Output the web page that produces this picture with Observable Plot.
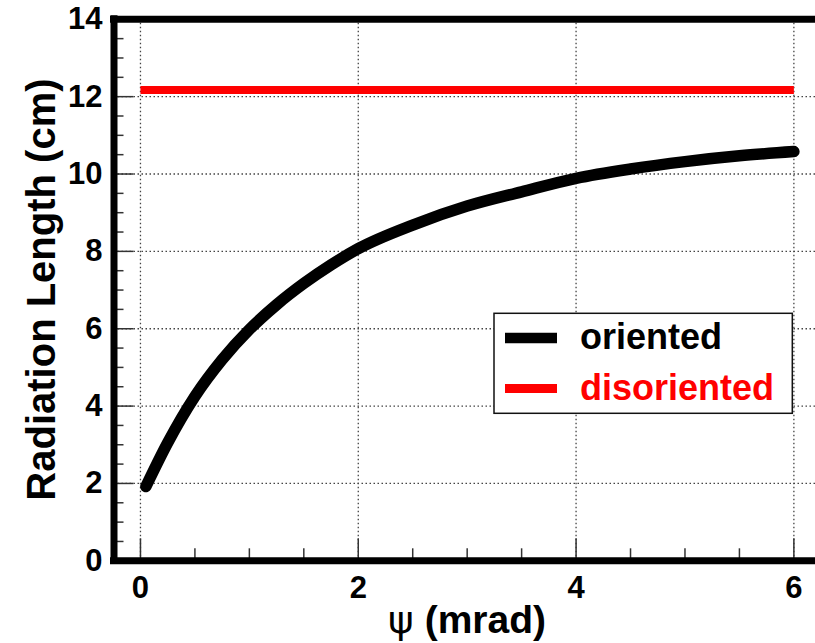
<!DOCTYPE html>
<html><head><meta charset="utf-8">
<script src="https://cdn.jsdelivr.net/npm/d3@7"></script>
<script src="https://cdn.jsdelivr.net/npm/@observablehq/plot@0.6"></script>
<style>html,body{margin:0;padding:0;background:#fff}svg{display:block}</style>
</head><body><div id="chart"></div>
<script>
// ---- data ----
const psi = [0.05, 0.25, 0.5, 0.75, 1.0, 1.25, 1.5, 1.75, 2.0, 2.5, 3.0, 3.5, 4.0, 4.5, 5.0, 5.5, 6.0];
const orientedLength = [1.92, 3.05, 4.25, 5.2, 5.98, 6.62, 7.17, 7.65, 8.07, 8.68, 9.17, 9.54, 9.89, 10.13, 10.32, 10.47, 10.58];
const disorientedPsi = [0, 6];
const disorientedLength = [12.17, 12.17];
const seriesNames = ["oriented", "disoriented"];
const seriesColors = ["#000000", "#ff0000"];
const xMajorTicks = [0, 2, 4, 6];
const xMinorTicks = [0.5, 1, 1.5, 2.5, 3, 3.5, 4.5, 5, 5.5];
const yMajorTicks = [0, 2, 4, 6, 8, 10, 12, 14];
const yMinorTicks = [0.5, 1, 1.5, 2.5, 3, 3.5, 4.5, 5, 5.5, 6.5, 7, 7.5, 8.5, 9, 9.5, 10.5, 11, 11.5, 12.5, 13, 13.5];
const xTitle = ["ψ", " (mrad)"];
const yTitle = "Radiation Length (cm)";

// ---- layout ----
const W = 815, H = 643;
const L = 113.5, T = 18.8, B = 560.3, R = 820.6;
const xDom = [-0.243, 6.25], yDom = [0, 14];
const pxX = (R - L) / (xDom[1] - xDom[0]);
const pxY = (B - T) / (yDom[1] - yDom[0]);

const oriented = psi.map((x, i) => ({x, y: orientedLength[i]}));
const disoriented = disorientedPsi.map((x, i) => ({x, y: disorientedLength[i]}));
const grid = {stroke: "#444", strokeWidth: 1.3, strokeDasharray: "1.5,2.5"};
const tickStyle = {stroke: "#333", strokeWidth: 1.5};

const plot = Plot.plot({
  width: W, height: H,
  marginLeft: L, marginTop: T, marginBottom: H - B, marginRight: 0,
  style: {background: "#fff", fontFamily: "'Liberation Sans', Arial, sans-serif", fontSize: "31px", fontWeight: "bold", color: "#000"},
  x: {domain: xDom, range: [L, R]},
  y: {domain: yDom, range: [B, T]},
  marks: [
    // grid
    Plot.ruleX(xMajorTicks, {x: d => d, y1: yDom[0], y2: yDom[1], ...grid}),
    Plot.ruleY(yMajorTicks.filter(d => d > 0 && d < 14), {y: d => d, x1: xDom[0], x2: xDom[1], ...grid}),
    // ticks (inside the frame)
    Plot.ruleX(xMajorTicks, {x: d => d, y1: 0, y2: 22 / pxY, ...tickStyle}),
    Plot.ruleX(xMinorTicks, {x: d => d, y1: 0, y2: 12 / pxY, ...tickStyle}),
    Plot.ruleY(yMajorTicks, {y: d => d, x1: xDom[0], x2: xDom[0] + 20 / pxX, ...tickStyle}),
    Plot.ruleY(yMinorTicks, {y: d => d, x1: xDom[0], x2: xDom[0] + 10 / pxX, ...tickStyle}),
    // data
    Plot.line(disoriented, {x: "x", y: "y", stroke: seriesColors[1], strokeWidth: 8, strokeLinecap: "butt"}),
    Plot.line(oriented, {x: "x", y: "y", stroke: seriesColors[0], strokeWidth: 11.5, strokeLinecap: "round", curve: "monotone-x"}),
    // frame
    Plot.ruleY([yDom[0], yDom[1]], {y: d => d, x1: xDom[0], x2: xDom[1], stroke: "#000", strokeWidth: 7, strokeLinecap: "square"}),
    Plot.ruleX([xDom[0]], {x: d => d, y1: yDom[0], y2: yDom[1], stroke: "#000", strokeWidth: 7, strokeLinecap: "square"}),
    // axes labels
    Plot.axisX({ticks: xMajorTicks, tickSize: 0, tickPadding: 14.7, label: null, tickFormat: d => d}),
    Plot.axisY({ticks: yMajorTicks, tickSize: 0, tickPadding: 11.5, label: null, tickFormat: d => d})
  ]
});
document.getElementById("chart").appendChild(plot);

const svg = d3.select(plot);
const font = "'Liberation Sans', Arial, sans-serif";
// axis titles
svg.append("text")
  .attr("transform", `translate(55,${(T + B) / 2}) rotate(-90)`)
  .attr("text-anchor", "middle")
  .style("font-family", font).style("font-size", "40px").style("font-weight", "bold").attr("fill", "#000")
  .text(yTitle);
const xt = svg.append("text")
  .attr("x", (L + R) / 2).attr("y", 633)
  .attr("text-anchor", "middle")
  .style("font-family", font).style("font-size", "39px").style("font-weight", "bold").attr("fill", "#000");
xt.append("tspan").style("font-family", "'DejaVu Sans', sans-serif").style("font-weight", "normal").text(xTitle[0]);
xt.append("tspan").text(xTitle[1]);

// legend
const lg = svg.append("g");
lg.append("rect").attr("x", 494).attr("y", 313.3).attr("width", 298.3).attr("height", 100)
  .attr("fill", "#fff").attr("stroke", "#111").attr("stroke-width", 1.5);
seriesNames.forEach((name, i) => {
  const yy = 338 + i * 50.5;
  lg.append("line").attr("x1", 505).attr("x2", 557).attr("y1", yy).attr("y2", yy)
    .attr("stroke", seriesColors[i]).attr("stroke-width", i === 0 ? 10.5 : 9);
  lg.append("text").attr("x", 580).attr("y", yy + 11).attr("text-anchor", "start")
    .style("font-family", font).style("font-size", "36px").style("font-weight", "bold")
    .attr("fill", seriesColors[i]).text(name);
});
</script>
</body></html>
